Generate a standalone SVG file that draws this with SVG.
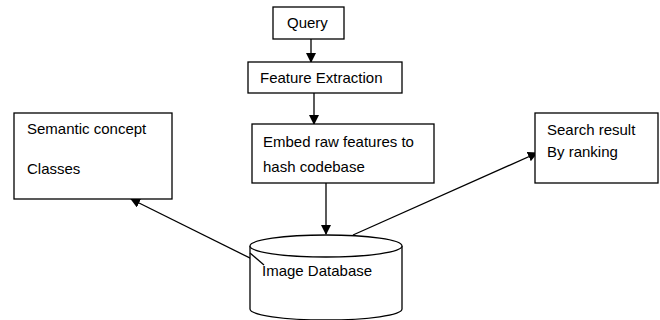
<svg xmlns="http://www.w3.org/2000/svg" width="660" height="320" viewBox="0 0 660 320">
<defs>
<marker id="arr" markerWidth="10" markerHeight="10" refX="9" refY="5" orient="auto" markerUnits="userSpaceOnUse">
<path d="M0,0 L10,5 L0,10 Z" fill="#000"/>
</marker>
<style>
.box{fill:#fff;stroke:#000;stroke-width:1.3}
.t{font-family:"Liberation Sans",Arial,sans-serif;font-size:15px;fill:#000}
.c{stroke:#000;stroke-width:1.3;fill:none;marker-end:url(#arr)}
</style>
</defs>
<rect width="660" height="320" fill="#fff"/>
<g id="connectors">
<line class="c" x1="311" y1="39" x2="311" y2="62"/>
<line class="c" x1="314" y1="93" x2="314" y2="124"/>
<line class="c" x1="326" y1="183" x2="326" y2="234"/>
<line class="c" x1="264" y1="265" x2="131" y2="199"/>
<line class="c" x1="353" y1="235" x2="537" y2="153"/>
</g>
<g id="query">
<rect class="box" x="273" y="7" width="71" height="32"/>
<text class="t" x="287" y="28">Query</text>
</g>
<g id="feature-extraction">
<rect class="box" x="248" y="62" width="154" height="31"/>
<text class="t" x="260" y="83">Feature Extraction</text>
</g>
<g id="embed">
<rect class="box" x="252" y="124" width="182" height="59"/>
<text class="t" x="263" y="147">Embed raw features to</text>
<text class="t" x="263" y="172">hash codebase</text>
</g>
<g id="semantic">
<rect class="box" x="14" y="113" width="158" height="86"/>
<text class="t" x="27" y="134">Semantic concept</text>
<text class="t" x="27" y="174">Classes</text>
</g>
<g id="search-result">
<rect class="box" x="535" y="113" width="123" height="70"/>
<text class="t" x="547" y="135">Search result</text>
<text class="t" x="547" y="157">By ranking</text>
</g>
<g id="image-database">
<path d="M250,246 L250,309 A76,11 0 0 0 402,309 L402,246" fill="#fff" stroke="#000" stroke-width="1.3"/>
<ellipse cx="326" cy="246" rx="76" ry="11" fill="#fff" stroke="#000" stroke-width="1.3"/>
<line x1="250" y1="253" x2="264" y2="265" stroke="#000" stroke-width="1.3"/>
<text class="t" x="262" y="276">Image Database</text>
</g>
</svg>
